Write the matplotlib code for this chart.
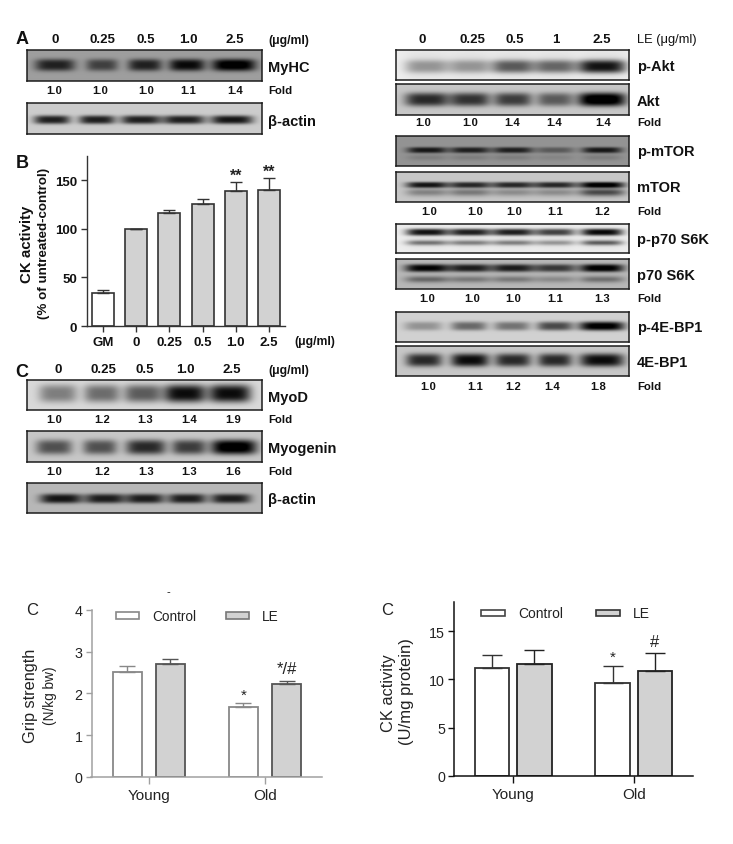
import numpy as np
import matplotlib
matplotlib.use("Agg")
import matplotlib.pyplot as plt
from matplotlib.patches import Rectangle

plt.rcParams['font.family'] = ['Liberation Sans', 'DejaVu Sans']
W, H = 733, 845

# ---------- data ----------
dose_a = ['0', '0.25', '0.5', '1.0', '2.5']
dose_r = ['0', '0.25', '0.5', '1', '2.5']
fold_myhc = ['1.0', '1.0', '1.0', '1.1', '1.4']
fold_myod = ['1.0', '1.2', '1.3', '1.4', '1.9']
fold_myog = ['1.0', '1.2', '1.3', '1.3', '1.6']
fold_akt = ['1.0', '1.0', '1.4', '1.4', '1.4']
fold_mtor = ['1.0', '1.0', '1.0', '1.1', '1.2']
fold_p70 = ['1.0', '1.0', '1.0', '1.1', '1.3']
fold_4e = ['1.0', '1.1', '1.2', '1.4', '1.8']

ck_cats = ['GM', '0', '0.25', '0.5', '1.0', '2.5']
ck_vals = [34, 100, 116, 126, 139, 140.5]
ck_errs = [3.5, 0, 3.5, 4.5, 9, 12]
ck_sig = ['', '', '', '', '**', '**']

groups = ['Young', 'Old']
grip_ctrl = [2.5, 1.68]
grip_ctrl_err = [0.15, 0.08]
grip_le = [2.7, 2.22]
grip_le_err = [0.13, 0.07]
grip_sig_ctrl = ['', '*']
grip_sig_le = ['', '*/#']
act_ctrl = [11.15, 9.65]
act_ctrl_err = [1.4, 1.75]
act_le = [11.6, 10.9]
act_le_err = [1.4, 1.85]
act_sig_ctrl = ['', '*']
act_sig_le = ['', '#']

# band strengths read from the blots
myhc_bands = [0.8, 0.6, 0.8, 0.95, 1.1]
actin_a_bands = [0.85, 0.85, 0.85, 0.85, 0.9]
myod_bands = [0.42, 0.5, 0.58, 0.95, 0.95]
myog_bands = [0.6, 0.6, 0.8, 0.7, 1.1]
actin_c_bands = [0.9, 0.85, 0.85, 0.85, 0.85]
pakt_bands = [0.3, 0.3, 0.55, 0.5, 0.85]
akt_bands = [0.8, 0.75, 0.7, 0.55, 1.15]
pmtor_bands = [0.85, 0.8, 0.8, 0.4, 0.85]
pmtor_low = [0.15, 0.15, 0.15, 0.1, 0.15]
mtor_bands = [0.9, 0.8, 0.8, 0.8, 1.05]
mtor_low = [0.35, 0.4, 0.3, 0.3, 0.65]
pp70_bands = [0.9, 0.85, 0.85, 0.7, 0.95]
pp70_low = [0.5, 0.45, 0.45, 0.35, 0.6]
p70_bands = [1.0, 0.85, 0.85, 0.7, 1.05]
p70_low = [0.45, 0.35, 0.35, 0.25, 0.4]
p4e_bands = [0.3, 0.5, 0.45, 0.65, 1.05]
e4_bands = [0.8, 0.95, 0.8, 0.8, 0.95]

# ---------- helpers ----------
fig = plt.figure(figsize=(W / 100, H / 100), dpi=100, facecolor='white')

def box(x0, y0, x1, y1):
    return fig.add_axes([x0 / W, 1 - y1 / H, (x1 - x0) / W, (y1 - y0) / H])

def txt(x, y, s, size=9, weight='bold', ha='center', color='#111111', **kw):
    fig.text(x / W, 1 - y / H, s, fontsize=size, fontweight=weight, ha=ha,
             va='center', color=color, **kw)

def blot(x0, y0, x1, y1, lanes, widths, bands, bg, yc=0.5, h=0.14, low=None,
         ylow=0.72, hlow=0.1, smear=0.0):
    """Render a gel panel on the page from per-lane band strengths."""
    ax = box(x0, y0, x1, y1)
    xs = np.linspace(x0, x1, int((x1 - x0) * 3))
    ys = np.linspace(0, 1, int((y1 - y0) * 3))
    X, Y = np.meshgrid(xs, ys)
    img = np.full(X.shape, float(bg))
    for i, c in enumerate(lanes):
        w = widths[i]
        shape = np.exp(-((X - c) / w) ** 4)
        img -= bands[i] * shape * np.exp(-np.abs((Y - yc) / h) ** 3) * bg
        if smear:
            img -= smear * shape * np.exp(-((Y - 0.5) / 0.45) ** 2)
        if low is not None:
            img -= low[i] * shape * np.exp(-((Y - ylow) / hlow) ** 2) * bg
    ax.imshow(np.clip(img, 0, 1), cmap='gray', vmin=0, vmax=1, aspect='auto',
              extent=(x0, x1, 1, 0), interpolation='bilinear')
    ax.set_xticks([]); ax.set_yticks([])
    for s in ax.spines.values():
        s.set_linewidth(1.1); s.set_color('#1c1c1c')

def row(y, xs, labels, size=8.1):
    for x, s in zip(xs, labels):
        txt(x, y, s, size=size)

HS = 9.5
# ---------- left blots ----------
txt(22, 40, 'A', size=13)
row(40, [55, 102, 146, 188, 235], dose_a, size=HS)
txt(268, 41, '(μg/ml)', size=8.8, ha='left')
blot(27, 51, 262, 82, [55, 102, 145, 187, 234], [20, 16, 17, 18, 22], myhc_bands, 0.62, yc=0.5, h=0.19)
txt(268, 68, 'MyHC', size=10.5, ha='left')
row(91, [54, 100, 146, 188, 235], fold_myhc)
txt(268, 91, 'Fold', size=8.2, ha='left')
blot(27, 104, 262, 135, [52, 97, 141, 184, 232], [18, 18, 20, 21, 21], actin_a_bands, 0.8, yc=0.54, h=0.14)
txt(268, 122, 'β-actin', size=10.5, ha='left')

txt(22, 373, 'C', size=13)
row(370, [58, 103, 145, 185, 232], dose_a, size=HS)
txt(268, 371, '(μg/ml)', size=8.8, ha='left')
blot(27, 381, 262, 411, [58, 102, 143, 185, 230], [19, 18, 19, 21, 21], myod_bands, 0.85, yc=0.45, h=0.3)
txt(268, 398, 'MyoD', size=10.5, ha='left')
row(420, [54, 102, 145, 189, 233], fold_myod)
txt(268, 420, 'Fold', size=8.2, ha='left')
blot(27, 432, 262, 463, [54, 100, 146, 189, 234], [18, 17, 20, 17, 23], myog_bands, 0.78, yc=0.52, h=0.24)
txt(268, 449, 'Myogenin', size=10.5, ha='left')
row(472, [54, 102, 146, 189, 233], fold_myog)
txt(268, 472, 'Fold', size=8.2, ha='left')
blot(27, 484, 262, 514, [61, 105, 145, 187, 231], [21, 20, 19, 19, 20], actin_c_bands, 0.72, yc=0.52, h=0.16)
txt(268, 500, 'β-actin', size=10.5, ha='left')

# ---------- right blots ----------
lanes_r = [427, 470, 513, 555, 602]
RX0, RX1, RL = 396, 629, 637
row(40, [422, 472, 515, 556, 602], dose_r, size=HS)
txt(RL, 40, 'LE (μg/ml)', size=9.3, ha='left', weight='normal')
blot(RX0, 51, RX1, 81, lanes_r, [22, 21, 21, 21, 24], pakt_bands, 0.93, yc=0.55, h=0.22, smear=0.07)
txt(RL, 67, 'p-Akt', size=10.5, ha='left')
blot(RX0, 85, RX1, 116, lanes_r, [22, 20, 19, 18, 24], akt_bands, 0.78, yc=0.5, h=0.22)
txt(RL, 102, 'Akt', size=10.5, ha='left')
row(123, [423, 470, 512, 554, 603], fold_akt)
txt(RL, 123, 'Fold', size=8.2, ha='left')
blot(RX0, 137, RX1, 167, lanes_r, [20, 20, 20, 19, 20], pmtor_bands, 0.58, yc=0.47, h=0.1, low=pmtor_low)
txt(RL, 152, 'p-mTOR', size=10.5, ha='left')
blot(RX0, 173, RX1, 203, lanes_r, [21, 21, 21, 21, 23], mtor_bands, 0.78, yc=0.43, h=0.1, low=mtor_low, ylow=0.68, hlow=0.13)
txt(RL, 188, 'mTOR', size=10.5, ha='left')
row(212, [429, 475, 514, 555, 602], fold_mtor)
txt(RL, 212, 'Fold', size=8.2, ha='left')
blot(RX0, 225, RX1, 254, lanes_r, [21, 21, 21, 20, 21], pp70_bands, 0.93, yc=0.28, h=0.12, low=pp70_low, ylow=0.65, hlow=0.09, smear=0.03)
txt(RL, 240, 'p-p70 S6K', size=10.5, ha='left')
blot(RX0, 260, RX1, 290, lanes_r, [22, 21, 21, 21, 22], p70_bands, 0.72, yc=0.3, h=0.13, low=p70_low, ylow=0.68, hlow=0.11)
txt(RL, 276, 'p70 S6K', size=10.5, ha='left')
row(299, [427, 472, 513, 555, 602], fold_p70)
txt(RL, 299, 'Fold', size=8.2, ha='left')
blot(RX0, 313, RX1, 343, [423, 469, 512, 555, 602], [19, 18, 18, 18, 23], p4e_bands, 0.82, yc=0.47, h=0.15)
txt(RL, 328, 'p-4E-BP1', size=10.5, ha='left')
blot(RX0, 347, RX1, 377, [424, 470, 513, 555, 602], [18, 19, 18, 17, 22], e4_bands, 0.78, yc=0.47, h=0.22)
txt(RL, 363, '4E-BP1', size=10.5, ha='left')
row(387, [428, 475, 513, 552, 598], fold_4e)
txt(RL, 387, 'Fold', size=8.2, ha='left')

# ---------- panel B ----------
txt(22, 164, 'B', size=13)
ax = box(87, 157, 285, 327)
xb = np.arange(len(ck_cats))
ax.bar(xb, ck_vals, width=0.66, color=['white'] + ['#d2d2d2'] * 5, edgecolor='#333333', linewidth=1.2)
ax.errorbar(xb, ck_vals, yerr=[np.zeros(6), ck_errs], fmt='none', ecolor='#333333', elinewidth=1, capsize=4.5, capthick=1)
for x, v, e, s in zip(xb, ck_vals, ck_errs, ck_sig):
    if s:
        ax.text(x, v + e + 7, s, ha='center', va='center', fontsize=11.5, fontweight='bold', color='#222222')
ax.set_xlim(-0.482, 5.48); ax.set_ylim(0, 175)
ax.set_yticks([0, 50, 100, 150])
ax.set_xticks(xb, ck_cats)
ax.tick_params(labelsize=9.5, length=4, width=1, color='#333333', pad=3, labelcolor='#111111')
for l in ax.get_xticklabels() + ax.get_yticklabels():
    l.set_fontweight('bold')
for s in ['top', 'right']:
    ax.spines[s].set_visible(False)
for s in ['left', 'bottom']:
    ax.spines[s].set_linewidth(1); ax.spines[s].set_color('#333333')
txt(294, 342, '(μg/ml)', size=8.8, ha='left')
txt(27, 244, 'CK activity', size=10.8, rotation=90)
txt(44, 243, '(% of untreated-control)', size=9.6, rotation=90)

# ---------- bottom charts ----------
def grouped(pos, xlim, ylim, yticks, ctrl, ce, le, le_e, sc, sl, off, bw, axc, ec1, ec2, dy, cap):
    a = box(*pos)
    x = np.arange(len(groups))
    a.bar(x - off, ctrl, width=bw, color='white', edgecolor=ec1, linewidth=1.3)
    a.bar(x + off, le, width=bw, color='#d2d2d2', edgecolor=ec2, linewidth=1.3)
    a.errorbar(x - off, ctrl, yerr=[np.zeros(2), ce], fmt='none', ecolor=ec1, elinewidth=1, capsize=cap, capthick=1)
    a.errorbar(x + off, le, yerr=[np.zeros(2), le_e], fmt='none', ecolor=ec2, elinewidth=1, capsize=cap, capthick=1)
    for i in x:
        if sc[i]:
            a.text(i - off, ctrl[i] + ce[i] + dy[0], sc[i], ha='center', va='center', fontsize=11, color='#222222')
        if sl[i]:
            a.text(i + off, le[i] + le_e[i] + dy[1], sl[i], ha='center', va='center', fontsize=12, color='#222222')
    a.set_xlim(*xlim); a.set_ylim(*ylim)
    a.set_yticks(yticks); a.set_xticks(x, groups)
    a.tick_params(axis='y', labelsize=10.3, length=4, width=1, color=axc, pad=2.5, labelcolor='#222222')
    a.tick_params(axis='x', labelsize=11, length=5, width=1, color=axc, pad=3, labelcolor='#222222')
    for s in ['top', 'right']:
        a.spines[s].set_visible(False)
    for s in ['left', 'bottom']:
        a.spines[s].set_linewidth(1.1); a.spines[s].set_color(axc)
    return a

grouped((91.5, 610.7, 321.6, 778), (-0.49, 1.486), (0, 4), [0, 1, 2, 3, 4], grip_ctrl, grip_ctrl_err,
        grip_le, grip_le_err, grip_sig_ctrl, grip_sig_le, 0.185, 0.249, '#a0a0a0', '#888888', '#555555', (0.2, 0.3), 5.5)
grouped((454, 603, 693, 777), (-0.488, 1.488), (0, 18), [0, 5, 10, 15], act_ctrl, act_ctrl_err,
        act_le, act_le_err, act_sig_ctrl, act_sig_le, 0.174, 0.289, '#111111', '#333333', '#222222', (0.9, 1.15), 7)

def legend_key(x0, x1, y0, y1, fc, ec):
    fig.add_artist(Rectangle((x0 / W, 1 - y1 / H), (x1 - x0) / W, (y1 - y0) / H, transform=fig.transFigure,
                             facecolor=fc, edgecolor=ec, linewidth=1.2))

legend_key(116, 139, 613, 620, 'white', '#888888')
txt(152, 617, 'Control', size=9.8, weight='normal', ha='left', color='#222222')
legend_key(226, 249, 613, 620, '#d2d2d2', '#777777')
txt(262, 617, 'LE', size=9.8, weight='normal', ha='left', color='#222222')
legend_key(481, 505, 611, 617, 'white', '#444444')
txt(518, 614, 'Control', size=10, weight='normal', ha='left', color='#222222')
legend_key(596, 620, 611, 617, '#d2d2d2', '#333333')
txt(633, 614, 'LE', size=10, weight='normal', ha='left', color='#222222')

txt(32, 611, 'C', size=12, weight='normal', color='#222222')
txt(387, 611, 'C', size=12, weight='normal', color='#222222')
txt(168, 592, '-', size=8, weight='normal')
txt(31, 696, 'Grip strength', size=11.7, weight='normal', rotation=90, color='#222222')
txt(50, 696, '(N/kg bw)', size=9.8, weight='normal', rotation=90, color='#222222')
txt(388, 693, 'CK activity', size=11.8, weight='normal', rotation=90, color='#222222')
txt(406, 692, '(U/mg protein)', size=12, weight='normal', rotation=90, color='#222222')

fig.savefig('out.png', dpi=100, facecolor='white')
